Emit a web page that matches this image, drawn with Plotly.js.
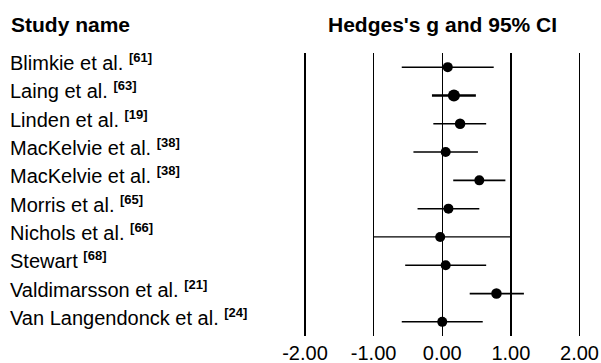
<!DOCTYPE html>
<html>
<head>
<meta charset="utf-8">
<script src="https://cdn.plot.ly/plotly-3.0.1.min.js"></script>
<style>html,body{margin:0;padding:0;background:#fff;}#chart{width:601px;height:363px;}</style>
</head>
<body>
<div id="chart"></div>
<script>
// ---- data ----
var studies = ["Blimkie et al.", "Laing et al.", "Linden et al.", "MacKelvie et al.", "MacKelvie et al.", "Morris et al.", "Nichols et al.", "Stewart", "Valdimarsson et al.", "Van Langendonck et al."];
var refs = ["61", "63", "19", "38", "38", "65", "66", "68", "21", "24"];
var hedgesG = [0.08, 0.17, 0.26, 0.05, 0.54, 0.09, -0.03, 0.05, 0.79, 0.00];
var lowerCI = [-0.59, -0.15, -0.13, -0.42, 0.16, -0.36, -1.00, -0.54, 0.40, -0.59];
var upperCI = [0.75, 0.49, 0.64, 0.52, 0.92, 0.54, 0.99, 0.64, 1.19, 0.59];
var tickVals = [-2, -1, 0, 1, 2];
var tickLabels = ["-2.00", "-1.00", "0.00", "1.00", "2.00"];

// ---- styling (marker size reflects study weight) ----
var markerSizes = [10, 12, 10.5, 10, 10, 10, 10, 10, 10.5, 10];
var lineWidths = [1.5, 2.5, 1.5, 1.5, 1.8, 1.5, 1.3, 1.5, 1.8, 1.5];
var FONT = "Liberation Sans, Arial, sans-serif";

var traces = studies.map(function (s, i) {
  return {
    type: "scatter",
    mode: "markers",
    x: [hedgesG[i]],
    y: [i],
    marker: { color: "#000", size: markerSizes[i] },
    error_x: {
      type: "data",
      symmetric: false,
      array: [upperCI[i] - hedgesG[i]],
      arrayminus: [hedgesG[i] - lowerCI[i]],
      color: "#000",
      thickness: lineWidths[i],
      width: 0
    },
    hoverinfo: "skip",
    showlegend: false,
    cliponaxis: false
  };
});

var annotations = studies.map(function (s, i) {
  return {
    xref: "paper", yref: "y",
    x: 8 / 601, y: i,
    xanchor: "left", yanchor: "middle",
    yshift: 5,
    text: s + " <sup><span style=\"font-size:13px\"><b>[" + refs[i] + "]</b></span></sup>",
    showarrow: false,
    font: { family: FONT, size: 20, color: "#000" }
  };
});
annotations.push({
  xref: "paper", yref: "paper", x: 9 / 601, y: 1 - 24 / 363,
  xanchor: "left", yanchor: "middle",
  text: "<b>Study name</b>", showarrow: false,
  font: { family: FONT, size: 21, color: "#000" }
});
annotations.push({
  xref: "x", yref: "paper", x: 0, y: 1 - 24 / 363,
  xanchor: "center", yanchor: "middle",
  text: "<b>Hedges's g and 95% CI</b>", showarrow: false,
  font: { family: FONT, size: 21, color: "#000" }
});

// x mapping: -2 -> 305px, 2 -> 579.5px
var pxPerUnit = (579.5 - 305) / 4;
var zeroPx = 442.25;
var domL = 0.45, domR = 1.0;
var xr = [(domL * 601 - zeroPx) / pxPerUnit, (domR * 601 - zeroPx) / pxPerUnit];

var layout = {
  width: 601, height: 363,
  margin: { l: 0, r: 0, t: 0, b: 0, pad: 0 },
  paper_bgcolor: "#fff", plot_bgcolor: "#fff",
  font: { family: FONT, color: "#000" },
  showlegend: false,
  xaxis: {
    domain: [domL, domR],
    range: xr,
    tickvals: tickVals,
    ticktext: tickLabels,
    ticks: "",
    ticklabelstandoff: 3,
    showgrid: true, gridcolor: "#000", gridwidth: 1.4,
    zeroline: true, zerolinecolor: "#000", zerolinewidth: 1.4,
    showline: false,
    tickfont: { family: FONT, size: 20, color: "#000" },
    fixedrange: true
  },
  yaxis: {
    domain: [1 - 336 / 363, 1 - 53 / 363],
    range: [9.5, -0.5],
    showgrid: false, zeroline: false, showticklabels: false, ticks: "",
    fixedrange: true
  },
  annotations: annotations
};

Plotly.newPlot("chart", traces, layout, { displayModeBar: false, staticPlot: true });
</script>
</body>
</html>
